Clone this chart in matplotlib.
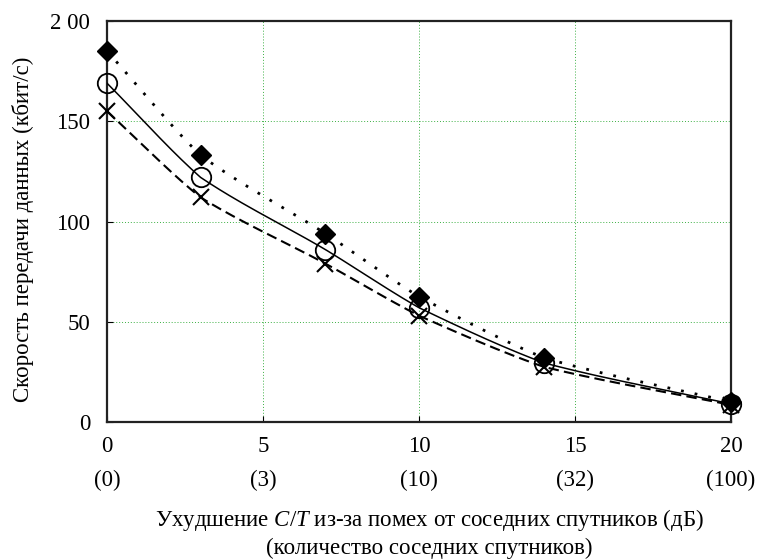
import numpy as np
import matplotlib
matplotlib.use("Agg")
import matplotlib.pyplot as plt

plt.rcParams['font.family'] = ['Liberation Serif', 'DejaVu Serif']
plt.rcParams['mathtext.fontset'] = 'custom'
plt.rcParams['mathtext.rm'] = 'Liberation Serif'
plt.rcParams['mathtext.it'] = 'Liberation Serif:italic'

x_db = [0, 3, 7, 10, 14, 20]
series_diamond = [185, 133, 94, 62.5, 32, 10]
series_circle = [169, 122, 86, 57, 29.5, 9]
series_cross = [155, 112, 79, 53, 27.5, 8.5]

xticks = [0, 5, 10, 15, 20]
xticklabels = ['0', '5', '10', '15', '20']
xticklabels2 = ['(0)', '(3)', '(10)', '(32)', '(100)']
yticks = [0, 50, 100, 150, 200]
yticklabels = ['0', '50', '100', '150', '2 00']

FS = 16.5


def smooth(xs, ys, n=40, a=0.5):
    # mildly smoothed cubic Hermite curve through the data points (drawing only)
    xs = np.asarray(xs, float); ys = np.asarray(ys, float)
    fd = np.empty_like(ys)
    fd[1:-1] = (ys[2:] - ys[:-2]) / (xs[2:] - xs[:-2])
    fd[0] = (ys[1] - ys[0]) / (xs[1] - xs[0])
    fd[-1] = (ys[-1] - ys[-2]) / (xs[-1] - xs[-2])
    px, py = [], []
    for i in range(len(xs) - 1):
        h = xs[i + 1] - xs[i]
        chord = (ys[i + 1] - ys[i]) / h
        m0 = (1 - a) * chord + a * fd[i]
        m1 = (1 - a) * chord + a * fd[i + 1]
        t = np.linspace(0, 1, n)
        h00 = 2 * t**3 - 3 * t**2 + 1
        h10 = t**3 - 2 * t**2 + t
        h01 = -2 * t**3 + 3 * t**2
        h11 = t**3 - t**2
        yy = h00 * ys[i] + h10 * h * m0 + h01 * ys[i + 1] + h11 * h * m1
        xx = xs[i] + t * h
        if i > 0:
            xx, yy = xx[1:], yy[1:]
        px.append(xx); py.append(yy)
    return np.concatenate(px), np.concatenate(py)


fig = plt.figure(figsize=(7.61, 5.59), dpi=100)
ax = fig.add_axes([0.1406, 0.2451, 0.82, 0.7173])

ax.set_xlim(0, 20)
ax.set_ylim(0, 200)
ax.set_xticks(xticks)
ax.set_xticklabels(xticklabels)
ax.set_yticks(yticks)
ax.set_yticklabels(yticklabels)
ax.tick_params(direction='in', labelsize=FS, length=4, colors='black')
ax.tick_params(axis='y', pad=12)
ax.tick_params(axis='x', pad=10)
ax.grid(True, color='#3cb043', linestyle=(0, (1, 2)), linewidth=0.7)
for s in ax.spines.values():
    s.set_linewidth(1.6)
    s.set_color('#222222')

sx, sy = smooth(x_db, series_diamond)
ax.plot(sx, sy, color='black', linestyle=(0, (1, 4)), linewidth=2, zorder=3)
ax.plot(x_db, series_diamond, linestyle='none', marker='D', markersize=10,
        color='black', clip_on=False, zorder=4)

sx, sy = smooth(x_db, series_circle)
ax.plot(sx, sy, color='black', linestyle='-', linewidth=1.1, zorder=3)
ax.plot(x_db, series_circle, linestyle='none', marker='o', markersize=14,
        markerfacecolor='none', markeredgecolor='black', markeredgewidth=1.3,
        clip_on=False, zorder=4)

sx, sy = smooth(x_db, series_cross)
ax.plot(sx, sy, color='black', linestyle=(0, (5, 2.5)), linewidth=1.5, zorder=3)
ax.plot(x_db, series_cross, linestyle='none', marker='x', markersize=12,
        markeredgewidth=1.5, color='black', clip_on=False, zorder=4)

for xv, lab in zip(xticks, xticklabels2):
    ax.text(xv, -0.145, lab, transform=ax.get_xaxis_transform(), ha='center', va='center',
            fontsize=FS)

fig.text(0.564, 0.0698, 'Ухудшение $\\mathit{C/T}$ из-за помех от соседних спутников (дБ)',
         ha='center', va='center', fontsize=FS)
fig.text(0.564, 0.0197, '(количество соседних спутников)', ha='center', va='center',
         fontsize=FS)
fig.text(0.030, 0.589, 'Скорость передачи данных (кбит/с)', rotation=90,
         ha='center', va='center', fontsize=FS)

fig.savefig('out.png', dpi=100)
